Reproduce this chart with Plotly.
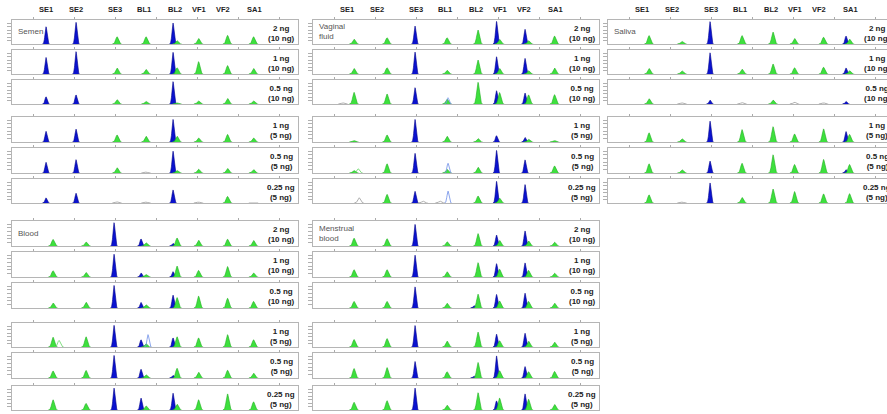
import numpy as np
import plotly.graph_objects as go

# ---------------- data ----------------
LOCI = ["SE1", "SE2", "SE3", "BL1", "BL2", "VF1", "VF2", "SA1"]
BLUE_POS = [34, 64, 102, 129, 161, 183.5, 212, 238]        # fragment position (blue dye)
GREEN_POS = [41, 74, 105, 134, 165, 186.5, 215.5, 241.5]   # fragment position (green dye)
HEADER_POS = [34, 64, 103, 132, 163, 187, 211, 242]
TOP_TICKS = [21, 62, 103, 144, 185, 226, 267]
AMOUNTS = ["2 ng<br>(10 ng)", "1 ng<br>(10 ng)", "0.5 ng<br>(10 ng)",
           "1 ng<br>(5 ng)", "0.5 ng<br>(5 ng)", "0.25 ng<br>(5 ng)"]
FLUIDS = ["Semen", "Blood", "Vaginal<br>fluid", "Menstrual<br>blood", "Saliva"]

SEMEN_BLUE = [
    [0.74, 0.93, 0, 0, 0.90, 0, 0, 0],
    [0.71, 0.96, 0, 0, 0.93, 0, 0, 0],
    [0.31, 0.39, 0, 0, 0.96, 0, 0, 0],
    [0.44, 0.53, 0, 0, 0.93, 0, 0, 0],
    [0.44, 0.55, 0, 0, 0.90, 0, 0, 0],
    [0.22, 0.42, 0, 0, 0.56, 0, 0, 0],
]
SEMEN_GREEN = [
    [0, 0, 0.31, 0.31, 0.14, 0.24, 0.37, 0.31],
    [0, 0, 0.26, 0.20, 0.27, 0.53, 0.36, 0.24],
    [0, 0, 0.19, 0.11, 0.05, 0.13, 0.24, 0.13],
    [0, 0, 0.29, 0.24, 0.24, 0.17, 0.31, 0.17],
    [0, 0, 0.22, 0, 0.10, 0.16, 0.19, 0.14],
    [0, 0, 0, 0, 0, 0, 0.28, 0],
]
BLOOD_BLUE = [
    [0, 0, 0.96, 0.29, 0.11, 0, 0, 0],
    [0, 0, 0.94, 0.17, 0.22, 0, 0, 0],
    [0, 0, 0.93, 0.23, 0.53, 0, 0, 0],
    [0, 0, 0.93, 0.31, 0.39, 0, 0, 0],
    [0, 0, 0.93, 0.36, 0.11, 0, 0, 0],
    [0, 0, 0.94, 0.51, 0.72, 0, 0, 0],
]
BLOOD_GREEN = [
    [0.27, 0.17, 0, 0.13, 0.33, 0.24, 0.28, 0.23],
    [0.26, 0.19, 0, 0.10, 0.45, 0.27, 0.43, 0.17],
    [0.21, 0.24, 0, 0.13, 0.43, 0.49, 0.40, 0.27],
    [0.42, 0.44, 0, 0.14, 0.44, 0.39, 0.53, 0.31],
    [0.29, 0.31, 0, 0.13, 0.40, 0.24, 0.32, 0.20],
    [0.44, 0.28, 0, 0.18, 0.25, 0.44, 0.69, 0.35],
]
VAGINAL_BLUE = [
    [0, 0, 0.77, 0, 0, 0.97, 0.63, 0],
    [0, 0, 0.94, 0, 0, 0.74, 0.67, 0],
    [0, 0, 0.70, 0, 0, 0.57, 0.47, 0],
    [0, 0, 0.93, 0, 0, 0.26, 0.19, 0],
    [0, 0, 0.81, 0, 0, 0.93, 0.54, 0],
    [0, 0, 0.50, 0, 0, 0.93, 0.79, 0],
]
VAGINAL_GREEN = [
    [0.21, 0.27, 0, 0.27, 0.60, 0.20, 0.14, 0.34],
    [0.24, 0.27, 0, 0.16, 0.60, 0.24, 0.14, 0.26],
    [0.50, 0.43, 0, 0.21, 0.93, 0.49, 0.39, 0.40],
    [0.06, 0.29, 0, 0.24, 0.14, 0, 0.11, 0.06],
    [0.10, 0.38, 0, 0.15, 0.24, 0, 0, 0.29],
    [0, 0.37, 0, 0, 0.30, 0.21, 0, 0],
]
MENSTRUAL_BLUE = [
    [0, 0, 0.89, 0, 0, 0.45, 0.62, 0],
    [0, 0, 0.90, 0, 0, 0.55, 0.58, 0],
    [0, 0, 0.87, 0, 0.10, 0.56, 0.61, 0],
    [0, 0, 0.92, 0, 0, 0.55, 0.59, 0],
    [0, 0, 0.68, 0, 0.08, 0.91, 0.47, 0],
    [0, 0, 0.94, 0, 0, 0.39, 0.69, 0],
]
MENSTRUAL_GREEN = [
    [0.32, 0.30, 0, 0.18, 0.51, 0.23, 0.21, 0.16],
    [0.30, 0.30, 0, 0.22, 0.59, 0.32, 0.27, 0.16],
    [0.27, 0.27, 0, 0.20, 0.57, 0.29, 0.27, 0.20],
    [0.32, 0.36, 0, 0.26, 0.64, 0.27, 0.25, 0.21],
    [0.39, 0.43, 0, 0.26, 0.64, 0.30, 0.26, 0.27],
    [0.33, 0.40, 0, 0.21, 0.74, 0.51, 0.46, 0.24],
]
SALIVA_BLUE = [
    [0, 0, 0.96, 0, 0, 0, 0, 0.34],
    [0, 0, 0.91, 0, 0, 0, 0, 0.26],
    [0, 0, 0.17, 0, 0, 0, 0, 0.11],
    [0, 0, 0.86, 0, 0, 0, 0, 0.43],
    [0, 0, 0.49, 0, 0, 0, 0, 0.14],
    [0, 0, 0.86, 0, 0, 0, 0, 0],
]
SALIVA_GREEN = [
    [0.36, 0.11, 0, 0.36, 0.51, 0.24, 0.29, 0.21],
    [0.24, 0.13, 0, 0.21, 0.43, 0.27, 0.29, 0.14],
    [0.23, 0, 0, 0, 0.17, 0, 0, 0],
    [0.38, 0.13, 0, 0.51, 0.63, 0.33, 0.54, 0.31],
    [0.38, 0.13, 0, 0.40, 0.75, 0.35, 0.56, 0.35],
    [0.35, 0, 0, 0.24, 0.60, 0.49, 0.39, 0.40],
]
# minor / off-scale peaks drawn as outlines: (panel index, position, height, kind)
SEMEN_MINOR = [(4, 134, 0.04, "gray"), (5, 105, 0.05, "gray"), (5, 134, 0.04, "gray"),
               (5, 186.5, 0.04, "gray"), (5, 241.5, 0.03, "gray")]
BLOOD_MINOR = [(3, 47, 0.28, "green"), (3, 136, 0.53, "blue")]
VAGINAL_MINOR = [(2, 30, 0.05, "gray"), (2, 135, 0.27, "blue"), (4, 45, 0.18, "green"),
                 (4, 135, 0.40, "blue"), (5, 46, 0.23, "gray"), (5, 135, 0.51, "blue"),
                 (5, 127, 0.08, "gray"), (5, 110, 0.08, "gray")]
MENSTRUAL_MINOR = []
SALIVA_MINOR = [(2, 74, 0.05, "gray"), (2, 134, 0.06, "gray"), (2, 186.5, 0.08, "gray"),
                (2, 215.5, 0.05, "gray"), (5, 74, 0.04, "gray")]

GROUPS = [
    (FLUIDS[0], SEMEN_BLUE, SEMEN_GREEN, SEMEN_MINOR, 0, "top"),
    (FLUIDS[1], BLOOD_BLUE, BLOOD_GREEN, BLOOD_MINOR, 0, "bottom"),
    (FLUIDS[2], VAGINAL_BLUE, VAGINAL_GREEN, VAGINAL_MINOR, 1, "top"),
    (FLUIDS[3], MENSTRUAL_BLUE, MENSTRUAL_GREEN, MENSTRUAL_MINOR, 1, "bottom"),
    (FLUIDS[4], SALIVA_BLUE, SALIVA_GREEN, SALIVA_MINOR, 2, "top"),
]

# ---------------- layout geometry (pixels) ----------------
W, H = 887, 414
COLS = [(12, 298), (313, 599), (608, 887)]
ROWS = {
    "top": [(20, 44), (50, 74), (80, 104), (117, 142), (148, 173), (179, 203)],
    "bottom": [(221, 246), (252, 277), (283, 308), (323, 347), (353, 378), (386, 410)],
}
BLUE_FILL, BLUE_LINE = "#0A12CF", "#00008A"
GREEN_FILL, GREEN_LINE = "#3EE03E", "#1FAE1F"
SIG_B, SIG_G = 1.0, 1.3
OFFS = np.linspace(-3.6, 3.6, 37)


def peaks(pos, heights, sig):
    """Each peak as its own closed segment (segments split by None)."""
    xs, ys = [], []
    for p, h in zip(pos, heights):
        if h <= 0:
            continue
        xs += list(p + OFFS * sig) + [None]
        ys += list(h * np.exp(-0.5 * OFFS ** 2)) + [None]
    if not xs:
        return [None], [None]
    return xs, ys


FONT = "Liberation Sans, Arial"
fig = go.Figure()
layout = {}
annotations = []
idx = 0
for name, blue, green, minor, col, half in GROUPS:
    x0, x1 = COLS[col]
    for p in range(6):
        idx += 1
        sfx = "" if idx == 1 else str(idx)
        xa, ya = "x" + sfx, "y" + sfx
        t, b = ROWS[half][p]
        layout["xaxis" + sfx] = dict(
            domain=[x0 / W, x1 / W], range=[0, x1 - x0], anchor=ya, side="top",
            showline=True, linecolor="#b5b5b5", linewidth=1, mirror=True,
            ticks="outside", ticklen=2, tickcolor="#aaaaaa", tickvals=TOP_TICKS,
            showticklabels=False, showgrid=False, zeroline=False, fixedrange=True)
        layout["yaxis" + sfx] = dict(
            domain=[1 - b / H, 1 - t / H], range=[0, 1.03], anchor=xa,
            showline=True, linecolor="#b5b5b5", linewidth=1, mirror=True,
            ticks="outside", ticklen=4, tickcolor="#b0b0b0",
            tickvals=[0.15, 0.3, 0.45, 0.6, 0.75, 0.9],
            showticklabels=False, showgrid=False, zeroline=False, fixedrange=True)
        # blue dye
        bx, by = peaks(BLUE_POS, blue[p], SIG_B)
        fig.add_trace(go.Scatter(
            x=bx, y=by, xaxis=xa, yaxis=ya, mode="lines", fill="toself",
            fillcolor=BLUE_FILL, line=dict(color=BLUE_LINE, width=0.6),
            showlegend=False, hoverinfo="skip"))
        # green dye
        gx, gy = peaks(GREEN_POS, green[p], SIG_G)
        fig.add_trace(go.Scatter(
            x=gx, y=gy, xaxis=xa, yaxis=ya, mode="lines", fill="toself",
            fillcolor=GREEN_FILL, line=dict(color=GREEN_LINE, width=0.6),
            showlegend=False, hoverinfo="skip"))
        # minor outline peaks
        for (mp, mx, mh, kind) in minor:
            if mp != p:
                continue
            col_line = {"gray": "#9a9a9a", "blue": "#6f8fe8", "green": "#5fd65f"}[kind]
            sig = SIG_B if kind == "blue" else SIG_G
            ox, oy = peaks([mx], [mh], sig)
            fig.add_trace(go.Scatter(
                x=ox, y=oy, xaxis=xa, yaxis=ya, mode="lines",
                line=dict(color=col_line, width=0.8), showlegend=False, hoverinfo="skip"))
        # amount label
        annotations.append(dict(
            x=269, y=0.45, xref=xa, yref=ya + " domain", text="<b>" + AMOUNTS[p] + "</b>",
            showarrow=False, xanchor="center", yanchor="middle", align="center",
            font=dict(family=FONT, size=8, color="#222222")))
        if p == 0:
            annotations.append(dict(
                x=4, y=0.52, xref=xa, yref=ya + " domain", text=name, showarrow=False,
                xanchor="left", yanchor="middle", align="left",
                font=dict(family=FONT, size=8, color="#555555")))
            if half == "top":
                for lab, hp in zip(LOCI, HEADER_POS):
                    annotations.append(dict(
                        x=hp, y=1 - 10 / H, xref=xa, yref="paper", text="<b>" + lab + "</b>",
                        showarrow=False, xanchor="center", yanchor="middle",
                        font=dict(family=FONT, size=7.5, color="#222222")))

fig.update_layout(**layout)
fig.update_layout(
    width=W, height=H, margin=dict(l=0, r=0, t=0, b=0),
    paper_bgcolor="white", plot_bgcolor="white", annotations=annotations,
    showlegend=False)

fig.write_html("out.html", config={"displayModeBar": False},
               post_script="document.body.style.margin='0';document.body.style.overflow='hidden';")
